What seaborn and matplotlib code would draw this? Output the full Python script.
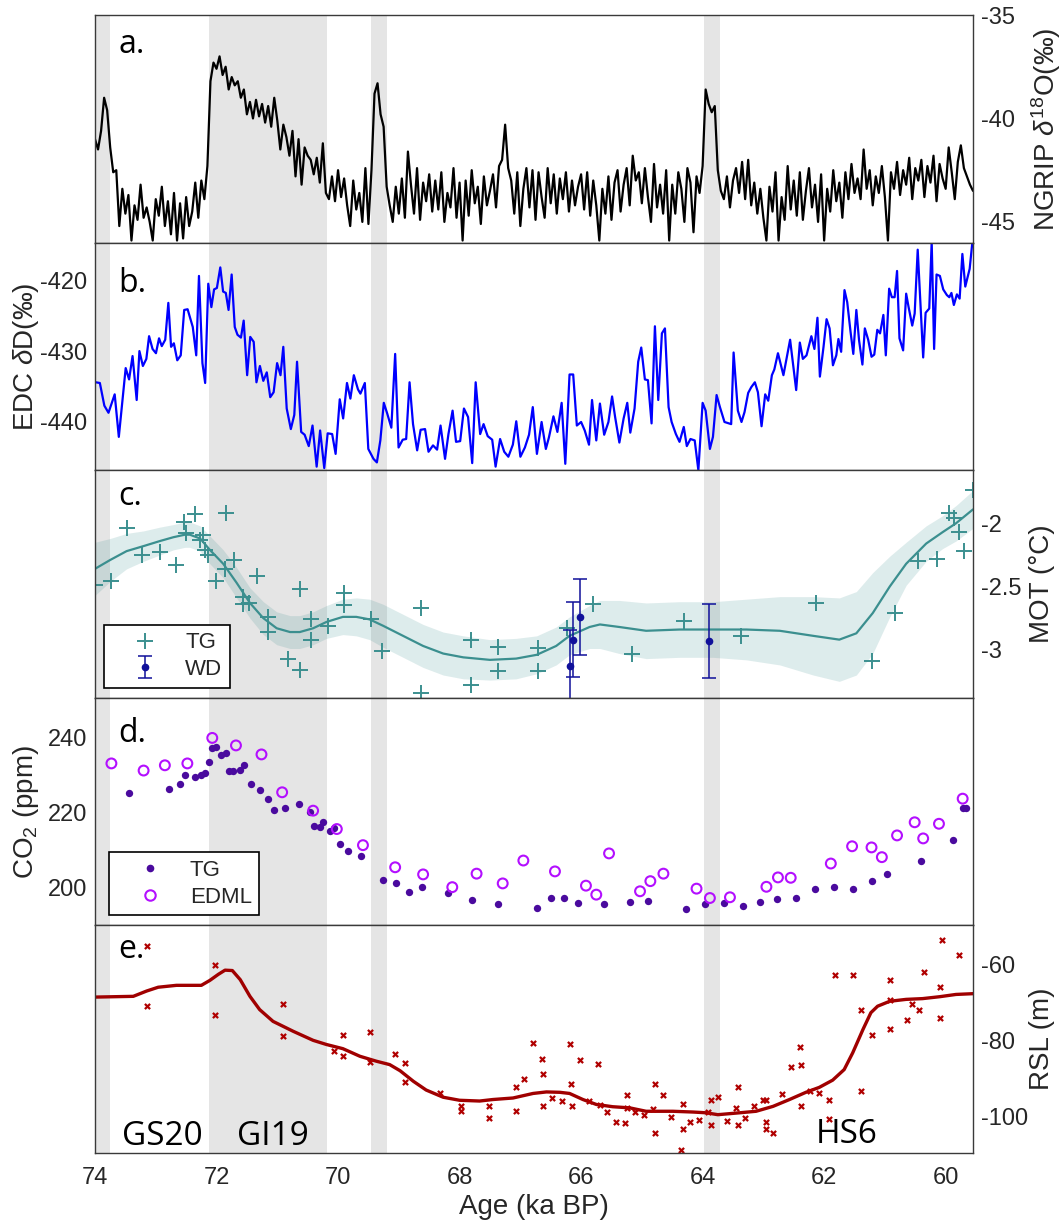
import numpy as np
import pandas as pd
import matplotlib
matplotlib.use("Agg")
import matplotlib.pyplot as plt
import matplotlib.transforms as mtransforms
from matplotlib.lines import Line2D
import seaborn as sns

# ---------------------------------------------------------------
# Shaded intervals (ka BP): GS20 onset, GI19, GI18, GI17
band_old = [74.00, 72.13, 69.46, 63.98]
band_young = [73.75, 70.19, 69.19, 63.72]

# (a) NGRIP d18O (permil), regular 50-yr grid from 74.00 to 59.55 ka
ngrip_d18o = [
    -41.0, -41.5, -40.6, -39.0, -39.6, -41.4, -42.6, -42.5, -45.2, -43.4,   # 74.00
    -44.6, -43.7, -45.9, -44.2, -44.9, -43.2, -44.8, -44.3, -45.0, -45.9,   # 73.50
    -43.9, -44.7, -43.3, -45.2, -44.0, -45.6, -43.6, -45.9, -44.1, -45.8,   # 73.00
    -43.8, -45.2, -44.5, -43.1, -44.8, -43.0, -43.9, -42.3, -38.2, -37.3,   # 72.50
    -37.6, -37.0, -37.9, -37.5, -38.6, -38.0, -38.4, -38.2, -39.0, -38.6,   # 72.00
    -39.8, -39.2, -40.0, -39.1, -39.9, -39.3, -40.2, -39.4, -40.4, -39.0,   # 71.50
    -40.1, -41.5, -40.3, -40.9, -41.8, -40.6, -42.8, -41.0, -43.2, -41.4,   # 71.00
    -41.8, -42.0, -42.7, -41.9, -43.1, -41.2, -43.6, -43.9, -42.8, -44.0,   # 70.50
    -42.5, -43.8, -42.9, -44.2, -45.2, -43.0, -44.4, -43.6, -45.0, -42.4,   # 70.00
    -45.1, -42.5, -38.8, -38.3, -39.8, -40.4, -43.3, -44.2, -45.0, -43.3,   # 69.50
    -44.6, -42.9, -44.8, -41.6, -43.2, -44.6, -42.4, -44.9, -43.1, -44.0,   # 69.00
    -42.7, -44.5, -43.0, -44.4, -42.6, -45.0, -43.6, -44.3, -42.4, -44.8,   # 68.50
    -43.1, -45.9, -43.0, -44.7, -42.5, -44.1, -43.3, -45.1, -42.8, -44.2,   # 68.00
    -43.5, -42.7, -44.3, -42.3, -42.0, -40.3, -42.4, -43.0, -44.6, -42.6,   # 67.50
    -45.2, -43.4, -42.4, -44.3, -42.5, -44.9, -42.6, -43.8, -44.8, -42.4,   # 67.00
    -44.1, -42.7, -44.6, -42.9, -43.9, -42.6, -44.5, -43.0, -44.2, -43.3,   # 66.50
    -42.7, -44.4, -42.6, -44.7, -43.0, -44.2, -45.9, -43.4, -44.6, -42.8,   # 66.00
    -44.9, -43.1, -42.5, -44.5, -43.2, -42.4, -44.2, -41.8, -43.0, -42.6,   # 65.50
    -44.1, -42.4, -43.8, -45.0, -42.2, -44.3, -43.2, -44.6, -42.5, -45.9,   # 65.00
    -43.2, -44.6, -42.6, -43.4, -45.0, -42.4, -43.1, -45.5, -42.8, -43.6,   # 64.50
    -42.3, -38.6, -39.3, -39.7, -39.4, -42.5, -43.5, -43.9, -42.8, -44.3,   # 64.00
    -43.0, -42.4, -43.6, -42.1, -43.9, -42.0, -44.2, -43.1, -44.6, -43.4,   # 63.50
    -44.8, -45.9, -43.3, -44.5, -42.6, -45.9, -43.8, -44.9, -42.3, -44.4,   # 63.00
    -43.0, -44.7, -42.6, -44.9, -43.5, -42.4, -44.3, -43.2, -45.0, -42.7,   # 62.50
    -45.9, -43.4, -44.5, -42.5, -44.0, -43.1, -44.8, -42.6, -43.9, -42.2,   # 62.00
    -43.6, -42.9, -43.9, -41.5, -43.4, -42.5, -44.2, -42.8, -43.6, -42.3,   # 61.50
    -43.8, -45.9, -42.6, -43.4, -42.1, -43.7, -42.5, -43.2, -41.9, -43.9,   # 61.00
    -42.4, -43.0, -42.0, -43.8, -42.3, -43.1, -41.8, -44.0, -42.2, -42.9,   # 60.50
    -43.4, -41.4, -42.6, -43.9, -42.1, -41.3, -42.4, -42.8, -43.2, -43.5,   # 60.00
]
ngrip_age = np.linspace(74.00, 59.55, len(ngrip_d18o))

# (b) EDC dD (permil)
edc_age = [
    73.988, 73.920, 73.846, 73.778, 73.676, 73.608, 73.495, 73.439, 73.382, 73.314,
    73.269, 73.212, 73.155, 73.110, 73.053, 72.997, 72.946, 72.901, 72.844, 72.793,
    72.748, 72.702, 72.646, 72.589, 72.532, 72.476, 72.391, 72.334, 72.289, 72.232,
    72.187, 72.136, 72.085, 72.040, 71.994, 71.938, 71.892, 71.847, 71.802, 71.751,
    71.700, 71.655, 71.598, 71.553, 71.496, 71.445, 71.388, 71.343, 71.286, 71.230,
    71.173, 71.116, 71.060, 71.003, 70.947, 70.901, 70.845, 70.777, 70.720, 70.675,
    70.607, 70.550, 70.482, 70.420, 70.352, 70.295, 70.227, 70.171, 70.097, 70.040,
    69.972, 69.916, 69.853, 69.797, 69.740, 69.672, 69.632, 69.559, 69.502, 69.417,
    69.361, 69.304, 69.247, 69.191, 69.123, 69.060, 69.004, 68.936, 68.879, 68.823,
    68.766, 68.698, 68.641, 68.568, 68.511, 68.437, 68.370, 68.313, 68.239, 68.183,
    68.115, 68.058, 67.990, 67.928, 67.860, 67.792, 67.735, 67.661, 67.605, 67.537,
    67.463, 67.407, 67.333, 67.265, 67.197, 67.123, 67.067, 66.999, 66.925, 66.857,
    66.795, 66.727,
    66.650, 66.580, 66.530, 66.455, 66.390, 66.320, 66.260, 66.190, 66.130, 66.070,
    66.000, 65.940, 65.870, 65.820, 65.750, 65.690, 65.620, 65.550, 65.490, 65.440,
    65.370, 65.300, 65.240, 65.190, 65.120, 65.060, 65.010, 64.950, 64.900, 64.840,
    64.785, 64.730, 64.670, 64.620, 64.560, 64.510, 64.440, 64.380, 64.310, 64.260,
    64.200, 64.130, 64.070, 64.000, 63.950, 63.880, 63.830, 63.770, 63.715, 63.640,
    63.530, 63.490, 63.420, 63.360, 63.310, 63.250, 63.200, 63.140, 63.090, 63.030,
    62.970, 62.920, 62.860, 62.820, 62.760, 62.670, 62.560, 62.460, 62.400, 62.350,
    62.290, 62.210, 62.160, 62.110, 62.070, 62.010, 61.960, 61.910, 61.855, 61.800,
    61.765, 61.720, 61.665, 61.620, 61.565, 61.520, 61.470, 61.425, 61.370, 61.330,
    61.275, 61.220, 61.175, 61.125, 61.080, 61.025, 60.985, 60.930, 60.885, 60.840,
    60.800, 60.760, 60.700, 60.650, 60.610, 60.550, 60.510, 60.460, 60.370, 60.330,
    60.270, 60.230, 60.190, 60.150, 60.095, 60.040, 59.980, 59.940, 59.905, 59.865,
    59.815, 59.770, 59.725, 59.677, 59.605, 59.560,
]
edc_dd = [
    -434.4, -434.5, -437.7, -438.7, -436.1, -442.1, -432.4, -434.0, -430.7, -436.9,
    -430.0, -432.1, -431.1, -427.9, -429.7, -430.3, -428.2, -429.3, -428.4, -423.2,
    -429.4, -428.9, -431.3, -430.6, -424.2, -424.1, -426.6, -430.6, -419.4, -431.7,
    -434.5, -420.5, -423.8, -421.3, -421.1, -418.2, -421.6, -421.8, -424.2, -419.2,
    -426.6, -427.7, -428.1, -425.7, -433.4, -428.0, -428.7, -434.4, -432.1, -434.2,
    -433.0, -436.5, -435.8, -431.7, -433.4, -429.4, -438.1, -441.0, -439.0, -431.5,
    -441.4, -441.8, -443.4, -440.5, -446.3, -441.2, -446.5, -441.6, -441.7, -444.5,
    -436.8, -439.5, -434.5, -436.7, -433.4, -435.4, -436.0, -434.5, -443.8, -445.2,
    -445.7, -442.6, -437.3, -438.8, -440.8, -430.4, -443.6, -442.5, -442.4, -434.4,
    -440.3, -444.0, -441.1, -441.0, -444.2, -443.3, -443.9, -440.5, -445.2, -441.7,
    -438.4, -442.8, -442.7, -438.1, -439.3, -445.8, -434.4, -441.7, -440.3, -442.0,
    -442.5, -446.3, -442.4, -444.2, -444.9, -443.2, -439.9, -444.9, -443.6, -441.8,
    -437.9, -444.5,
    -440.0, -443.8, -442.2, -439.2, -441.4, -437.3, -445.9, -433.3, -433.3, -440.5,
    -440.0, -441.2, -443.2, -436.9, -442.6, -437.4, -441.8, -440.0, -436.4, -439.3,
    -442.9, -439.5, -437.3, -441.5, -438.1, -431.5, -429.5, -434.0, -434.1, -440.2,
    -426.5, -436.9, -427.5, -426.8, -437.9, -440.0, -441.7, -442.8, -440.7, -443.4,
    -442.4, -442.6, -446.8, -437.3, -438.4, -443.8, -442.1, -436.2, -437.9, -440.0,
    -440.3, -430.2, -438.4, -440.0, -438.6, -435.9, -435.1, -434.4, -435.8, -440.6,
    -436.1, -437.0, -433.4, -432.6, -430.3, -433.4, -428.4, -435.5, -428.8, -431.1,
    -430.6, -427.9, -429.7, -425.3, -433.6, -429.4, -425.5, -426.8, -432.0, -430.6,
    -428.3, -430.1, -421.4, -423.1, -427.3, -430.4, -424.2, -428.5, -431.9, -426.8,
    -428.4, -430.8, -430.5, -427.0, -427.5, -424.9, -430.6, -421.2, -422.4, -422.4,
    -418.7, -428.2, -429.9, -421.9, -423.8, -426.4, -424.7, -415.7, -430.9, -424.6,
    -424.0, -414.6, -429.7, -419.2, -419.4, -421.3, -422.1, -422.4, -421.8, -423.5,
    -422.0, -422.6, -416.3, -420.9, -418.4, -414.6,
]

# (c) Mean ocean temperature (degC): TG points, WD points, TG smooth fit + envelope
mot_tg_age = [
    74.00, 73.73, 73.48, 73.22, 72.93, 72.67, 72.53, 72.355, 72.50, 72.22,
    72.27, 72.19, 72.135, 71.85, 72.01, 71.86, 71.71, 71.56, 71.56, 71.46,
    71.34, 71.15, 71.15, 70.82, 70.62, 70.62, 70.44, 70.44, 70.16, 69.90,
    69.90, 69.46, 69.27, 68.63, 68.63, 67.81, 67.81, 67.37, 67.37, 66.71,
    66.71, 66.24, 65.80, 65.16, 64.30, 63.36, 62.13, 61.21, 60.84, 60.46,
    60.15, 59.94, 59.87, 59.78, 59.70, 59.55,
]
mot_tg = [
    -2.49, -2.46, -2.04, -2.25, -2.23, -2.33, -1.99, -1.93, -2.08, -2.09,
    -2.13, -2.21, -2.25, -1.92, -2.46, -2.36, -2.29, -2.58, -2.64, -2.63,
    -2.42, -2.74, -2.86, -3.07, -2.52, -3.16, -2.76, -2.92, -2.81, -2.55,
    -2.65, -2.76, -3.01, -2.67, -3.34, -2.92, -3.28, -2.98, -3.17, -2.99,
    -3.17, -2.83, -2.64, -3.03, -2.77, -2.89, -2.63, -3.09, -2.71, -2.30,
    -2.28, -1.92, -1.96, -2.07, -2.22, -1.74,
]
mot_wd_age = [66.19, 66.13, 66.02, 63.90]
mot_wd = [-3.13, -2.92, -2.74, -2.93]
mot_wd_err = [0.29, 0.295, 0.30, 0.29]

mot_fit_age = [
    74.00, 73.75, 73.48, 73.20, 72.93, 72.71, 72.52, 72.44, 72.27, 72.11,
    71.89, 71.67, 71.45, 71.23, 71.01, 70.79, 70.63, 70.41, 70.19, 69.92,
    69.70, 69.48, 69.26, 68.93, 68.60, 68.27, 67.94, 67.50, 67.07, 66.73,
    66.41, 66.19, 65.86, 65.69, 65.37, 64.93, 64.38, 63.83, 63.28, 62.73,
    62.18, 61.75, 61.47, 61.20, 60.92, 60.65, 60.32, 60.05, 59.83, 59.55,
]
mot_fit = [
    -2.36, -2.29, -2.22, -2.18, -2.14, -2.11, -2.09, -2.09, -2.12, -2.21,
    -2.32, -2.47, -2.63, -2.75, -2.83, -2.86, -2.86, -2.83, -2.78, -2.74,
    -2.74, -2.76, -2.81, -2.89, -2.97, -3.03, -3.06, -3.08, -3.07, -3.04,
    -2.97, -2.89, -2.82, -2.80, -2.82, -2.85, -2.84, -2.84, -2.84, -2.85,
    -2.89, -2.92, -2.87, -2.71, -2.50, -2.32, -2.16, -2.07, -2.00, -1.89,
]
mot_fit_halfwidth = [
    0.21, 0.17, 0.14, 0.12, 0.11, 0.10, 0.10, 0.10, 0.10, 0.11,
    0.11, 0.12, 0.12, 0.13, 0.13, 0.13, 0.13, 0.13, 0.13, 0.14,
    0.15, 0.16, 0.17, 0.17, 0.17, 0.17, 0.17, 0.16, 0.16, 0.15,
    0.15, 0.15, 0.17, 0.19, 0.21, 0.22, 0.22, 0.22, 0.24, 0.27,
    0.31, 0.33, 0.33, 0.32, 0.24, 0.17, 0.14, 0.13, 0.14, 0.15,
]

# (d) CO2 (ppm): TG and EDML
co2_tg_age = [
    73.44, 72.79, 72.60, 72.52, 72.36, 72.26, 72.19, 72.13, 72.08, 72.01,
    71.92, 71.85, 71.80, 71.73, 71.61, 71.55, 71.44, 71.28, 71.15, 71.05,
    70.87, 70.65, 70.46, 70.39, 70.29, 70.24, 70.14, 70.07, 69.97, 69.83,
    69.62, 69.26, 69.05, 68.83, 68.62, 68.19, 67.80, 67.37, 66.73, 66.495,
    66.28, 66.055, 65.62, 65.19, 64.895, 64.27, 63.96, 63.65, 63.34, 63.06,
    62.77, 62.47, 62.155, 61.84, 61.53, 61.22, 60.97, 60.40, 59.88, 59.71,
    59.66,
]
co2_tg = [
    225.3, 226.4, 227.7, 230.2, 229.5, 230.2, 230.7, 233.5, 237.3, 237.7,
    235.4, 235.9, 231.1, 231.1, 231.4, 232.7, 227.8, 226.1, 223.7, 220.9,
    221.3, 222.5, 220.2, 216.4, 216.2, 217.5, 215.1, 216.0, 211.8, 209.8,
    208.6, 202.0, 201.3, 199.0, 200.3, 198.6, 196.7, 195.6, 194.7, 197.2,
    197.3, 195.9, 195.7, 196.3, 196.6, 194.4, 195.6, 196.1, 195.2, 196.2,
    197.0, 197.3, 199.8, 200.2, 199.8, 201.8, 203.6, 207.3, 212.9, 221.3,
    221.3,
]
co2_edml_age = [
    73.73, 73.20, 72.85, 72.48, 72.07, 71.68, 71.26, 70.92, 70.41, 70.02,
    69.59, 69.06, 68.60, 68.12, 67.72, 67.29, 66.95, 66.43, 65.92, 65.75,
    65.54, 65.03, 64.86, 64.645, 64.10, 63.88, 63.55, 62.95, 62.76, 62.55,
    61.89, 61.54, 61.22, 61.05, 60.80, 60.51, 60.37, 60.11, 59.72,
]
co2_edml = [
    233.2, 231.3, 232.7, 233.2, 240.0, 238.0, 235.6, 225.5, 220.6, 215.7,
    211.4, 205.5, 203.6, 200.2, 203.8, 201.2, 207.3, 204.4, 200.6, 198.2,
    209.2, 199.1, 201.8, 203.8, 199.8, 197.3, 197.5, 200.3, 202.8, 202.7,
    206.5, 211.1, 210.8, 208.2, 214.0, 217.5, 213.2, 217.1, 223.8,
]

# (e) Relative sea level (m): individual estimates and smoothed curve
rsl_age = [
    73.14, 73.14, 72.03, 72.03, 70.90, 70.90, 70.07, 69.92, 69.92, 69.47,
    69.47, 69.07, 68.89, 68.89, 68.33, 67.98, 67.98, 67.52, 67.52, 67.07,
    67.07, 66.94, 66.79, 66.64, 66.62, 66.62, 66.48, 66.32, 66.18, 66.16,
    66.15, 66.02, 65.87, 65.72, 65.69, 65.57, 65.42, 65.27, 65.24, 65.24,
    65.12, 64.96, 64.82, 64.78, 64.78, 64.66, 64.52, 64.35, 64.32, 64.32,
    64.20, 64.06, 63.91, 63.87, 63.87, 63.75, 63.60, 63.45, 63.41, 63.41,
    63.30, 63.15, 63.01, 62.95, 62.95, 62.95, 62.84, 62.69, 62.54, 62.39,
    62.38, 62.38, 62.23, 62.09, 61.92, 61.92, 61.82, 61.52, 61.39, 61.39,
    61.22, 60.92, 60.91, 60.91, 60.63, 60.56, 60.44, 60.35, 60.09, 60.09,
    60.06, 59.78,
]
rsl = [
    -55.2, -71.0, -60.2, -73.2, -70.5, -78.9, -82.7, -78.5, -84.2, -77.8,
    -85.8, -83.5, -86.1, -91.0, -94.0, -97.2, -98.7, -97.2, -100.4, -92.4,
    -98.5, -90.1, -80.7, -84.8, -88.8, -97.2, -95.2, -95.9, -80.9, -91.5,
    -97.4, -85.3, -95.9, -86.2, -97.1, -98.9, -101.5, -101.8, -94.3, -97.8,
    -98.9, -99.6, -98.2, -91.6, -104.4, -94.5, -100.3, -108.8, -96.9, -103.5,
    -101.6, -101.1, -98.9, -95.6, -102.3, -95.0, -101.3, -97.8, -92.3, -102.4,
    -100.6, -97.2, -95.8, -95.6, -101.5, -103.3, -104.4, -94.1, -87.0, -81.8,
    -86.5, -97.2, -93.4, -94.0, -95.6, -100.7, -62.9, -62.9, -71.9, -93.4,
    -78.6, -64.2, -69.4, -77.0, -74.7, -70.5, -72.1, -62.0, -66.0, -74.1,
    -53.6, -57.5,
]
rsl_fit_age = [
    74.00, 73.37, 73.15, 72.96, 72.66, 72.44, 72.25, 72.11, 71.97, 71.86,
    71.74, 71.61, 71.45, 71.29, 71.07, 70.74, 70.41, 70.19, 69.92, 69.64,
    69.37, 69.15, 68.98, 68.76, 68.55, 68.27, 68.00, 67.67, 67.45, 67.12,
    66.79, 66.57, 66.35, 66.19, 65.97, 65.75, 65.48, 65.20, 64.93, 64.49,
    64.16, 63.94, 63.75, 63.39, 63.12, 62.84, 62.57, 62.30, 62.08, 61.86,
    61.67, 61.53, 61.36, 61.23, 61.12, 60.92, 60.65, 60.38, 60.10, 59.83,
    59.55,
]
rsl_fit = [
    -68.6, -68.4, -67.0, -66.0, -65.5, -65.5, -65.5, -64.2, -62.6, -61.5,
    -61.6, -64.0, -68.4, -71.9, -75.0, -77.6, -80.0, -81.1, -82.2, -84.2,
    -85.5, -86.4, -88.0, -90.8, -93.1, -95.0, -95.8, -96.0, -95.6, -95.2,
    -94.0, -93.6, -93.7, -94.0, -95.6, -96.9, -97.5, -97.8, -98.7, -98.7,
    -98.9, -99.1, -99.6, -99.1, -98.7, -97.4, -95.6, -93.7, -92.4, -90.5,
    -87.7, -83.3, -77.1, -72.7, -71.0, -69.7, -69.2, -69.0, -68.5, -67.9,
    -67.7,
]

# Interval labels
event_names = ["GS20", "GI19", "HS6"]
event_x = [73.56, 71.67, 62.13]
event_y = [0.035, 0.035, 0.043]

# ---------------------------------------------------------------
sns.set_theme(style="white")
plt.rcParams["font.family"] = ["Liberation Sans", "DejaVu Sans"]
plt.rcParams["axes.unicode_minus"] = False
plt.rcParams["mathtext.fontset"] = "custom"
plt.rcParams["mathtext.rm"] = "Liberation Sans"
plt.rcParams["mathtext.it"] = "Liberation Sans:italic"
plt.rcParams["mathtext.default"] = "regular"

TEAL = "#3b8f8f"
NAVY = "#10109a"
PURPLE = "#4a0a9e"
MAGENTA = "#b30fff"
DARKRED = "#a00000"
BAND = "#e5e5e5"
SPINE = "#3a3a3a"
TXT = "#262626"

fig, axes = plt.subplots(5, 1, figsize=(10.61, 12.26), dpi=100, sharex=True)
fig.subplots_adjust(left=95 / 1061, right=973 / 1061,
                    bottom=73 / 1226, top=1211 / 1226, hspace=0)
ax_a, ax_b, ax_c, ax_d, ax_e = axes

for ax in axes:
    for lo, hi in zip(band_young, band_old):
        ax.axvspan(lo, hi, color=BAND, lw=0, zorder=0)
    for sp in ax.spines.values():
        sp.set_color(SPINE)
        sp.set_linewidth(1.0)
        sp.set_zorder(5)
    ax.tick_params(axis="both", length=0, labelsize=17, colors=TXT)
    ax.tick_params(axis="y", pad=5.5)
    ax.set_xlim(74.0, 59.55)

# (a) NGRIP
sns.lineplot(x=ngrip_age, y=ngrip_d18o, ax=ax_a, color="black", lw=1.6,
             sort=False, estimator=None)
ax_a.set_ylim(-46, -35)
ax_a.set_yticks([-45, -40, -35])

# (b) EDC
sns.lineplot(x=edc_age, y=edc_dd, ax=ax_b, color="#0000ff", lw=1.6,
             sort=False, estimator=None)
ax_b.set_ylim(-446.8, -414.7)
ax_b.set_yticks([-440, -430, -420])

# (c) MOT
fit_lo = np.array(mot_fit) - np.array(mot_fit_halfwidth)
fit_hi = np.array(mot_fit) + np.array(mot_fit_halfwidth)
ax_c.fill_between(mot_fit_age, fit_lo, fit_hi, color=TEAL, alpha=0.17, lw=0, zorder=1)
sns.lineplot(x=mot_fit_age, y=mot_fit, ax=ax_c, color=TEAL, lw=1.6,
             sort=False, estimator=None, zorder=2)
sns.scatterplot(x=mot_tg_age, y=mot_tg, ax=ax_c, marker="+", s=120,
                color=TEAL, linewidth=1.4, zorder=3, legend=False)
wd = ax_c.errorbar(mot_wd_age, mot_wd, yerr=mot_wd_err, fmt="o", ms=4.5,
                   color=NAVY, ecolor=NAVY, elinewidth=1.1, capsize=5,
                   capthick=1.1, zorder=4)
ax_c.set_ylim(-3.38, -1.58)
ax_c.set_yticks([-3, -2.5, -2])
ax_c.set_yticklabels(["-3", "-2.5", "-2"])
tg_handle = Line2D([], [], ls="none", marker="+", ms=11, mew=1.4, color=TEAL)
leg_c = ax_c.legend([tg_handle, wd], ["TG", "WD"], loc="lower left",
                    bbox_to_anchor=(0.0103, 0.044), borderaxespad=0,
                    fontsize=16, handlelength=3.0, handletextpad=0.3,
                    borderpad=0.35, labelspacing=0.25, fancybox=False,
                    framealpha=1, edgecolor="black")
leg_c.get_frame().set_linewidth(1.2)

# (d) CO2
sns.scatterplot(x=co2_tg_age, y=co2_tg, ax=ax_d, marker="o", s=28,
                color=PURPLE, edgecolor=PURPLE, linewidth=0, zorder=3, legend=False)
sns.scatterplot(x=co2_edml_age, y=co2_edml, ax=ax_d, marker="o", s=50,
                facecolor="none", edgecolor=MAGENTA, linewidth=1.5, zorder=3,
                legend=False)
ax_d.set_ylim(190, 250.7)
ax_d.set_yticks([200, 220, 240])
tg_co2_handle = Line2D([], [], ls="none", marker="o", ms=5.5, mew=0, color=PURPLE)
edml_handle = Line2D([], [], ls="none", marker="o", ms=7.5, mew=1.5,
                     markerfacecolor="none", markeredgecolor=MAGENTA)
leg_d = ax_d.legend([tg_co2_handle, edml_handle], ["TG", "EDML"], loc="lower left",
                    bbox_to_anchor=(0.0154, 0.044), borderaxespad=0,
                    fontsize=16, handlelength=3.0, handletextpad=0.3,
                    borderpad=0.35, labelspacing=0.25, fancybox=False,
                    framealpha=1, edgecolor="black")
leg_d.get_frame().set_linewidth(1.2)

# (e) RSL
sns.scatterplot(x=rsl_age, y=rsl, ax=ax_e, marker="x", s=14, color="#b00000",
                linewidth=1.6, zorder=3, legend=False)
sns.lineplot(x=rsl_fit_age, y=rsl_fit, ax=ax_e, color=DARKRED, lw=2.4,
             sort=False, estimator=None, zorder=2)
ax_e.set_ylim(-109.7, -49.7)
ax_e.set_yticks([-100, -80, -60])
ax_e.set_xticks([74, 72, 70, 68, 66, 64, 62, 60])
ax_e.set_xticklabels(["74", "72", "70", "68", "66", "64", "62", "60"])
ax_e.tick_params(axis="x", pad=10)
ax_e.set_xlabel("Age (ka BP)", fontsize=20, color=TXT, labelpad=4)

trans_e = mtransforms.blended_transform_factory(ax_e.transData, ax_e.transAxes)
for name, xx, yy in zip(event_names, event_x, event_y):
    ax_e.text(xx, yy, name, transform=trans_e, ha="left", va="baseline",
              fontsize=24, family="Open Sans", color="black")

# y axis sides and labels
for ax in (ax_a, ax_c, ax_e):
    ax.yaxis.tick_right()
    ax.yaxis.set_label_position("right")
ax_a.set_ylabel(r"NGRIP $\mathit{\delta}^{18}$O(‰)", fontsize=20, color=TXT)
ax_b.set_ylabel(r"EDC $\mathit{\delta}$D(‰)", fontsize=20, color=TXT)
ax_c.set_ylabel("MOT (°C)", fontsize=20, color=TXT)
ax_d.set_ylabel(r"CO$_2$ (ppm)", fontsize=20, color=TXT)
ax_e.set_ylabel("RSL (m)", fontsize=20, color=TXT)
for ax in (ax_a, ax_c, ax_e):
    ax.yaxis.set_label_coords(1.064, 0.5)
for ax in (ax_b, ax_d):
    ax.yaxis.set_label_coords(-0.062, 0.5)

# panel letters
letters = ["a.", "b.", "c.", "d.", "e."]
letter_y = [0.833, 0.785, 0.846, 0.807, 0.855]
for ax, lab, yy in zip(axes, letters, letter_y):
    ax.text(0.027, yy, lab, transform=ax.transAxes, ha="left", va="baseline",
            fontsize=23, family="Open Sans", color="black")

for ax in axes[:-1]:
    ax.tick_params(axis="x", labelbottom=False)

fig.savefig("out.png", dpi=100)
